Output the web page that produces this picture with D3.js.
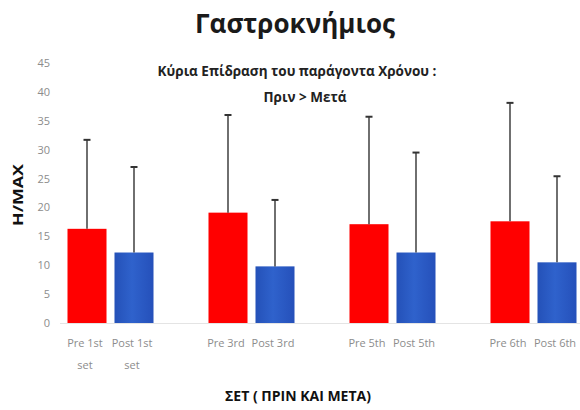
<!DOCTYPE html>
<html>
<head>
<meta charset="utf-8">
<script src="https://cdn.jsdelivr.net/npm/d3@7"></script>
<style>
  html, body { margin: 0; padding: 0; background: #fff; }
  svg { display: block; }
</style>
</head>
<body>
<svg id="chart" width="580" height="410"></svg>
<script>
// Sets, with blank spacer slots between the pre/post pairs
const categories = ["Pre 1st set", "Post 1st set", "",
                    "Pre 3rd", "Post 3rd", "",
                    "Pre 5th", "Post 5th", "",
                    "Pre 6th", "Post 6th"];
const phases = ["pre", "post", null, "pre", "post", null, "pre", "post", null, "pre", "post"];
const means = [16.3, 12.2, null, 19.1, 9.8, null, 17.1, 12.2, null, 17.6, 10.5];
const errorTops = [31.7, 27.0, null, 36.0, 21.3, null, 35.7, 29.5, null, 38.1, 25.4];
const yTicks = [0, 5, 10, 15, 20, 25, 30, 35, 40, 45];

const svg = d3.select("#chart");
const narrow = "'Liberation Sans Narrow', 'Open Sans', sans-serif";

const x = d3.scaleBand()
  .domain(categories.map((c, i) => i))
  .range([63.5, 580.5])
  .paddingInner(0.17)
  .paddingOuter(0.085);

const y = d3.scaleLinear().domain([0, 45]).range([323, 63]);

// bar fills
const defs = svg.append("defs");
const blue = defs.append("linearGradient").attr("id", "blueFill")
  .attr("x1", 0).attr("x2", 1).attr("y1", 0).attr("y2", 0);
blue.append("stop").attr("offset", "0%").attr("stop-color", "#2451b8");
blue.append("stop").attr("offset", "45%").attr("stop-color", "#2f62cc");
blue.append("stop").attr("offset", "100%").attr("stop-color", "#2550ba");

// title
svg.append("text")
  .attr("x", 295).attr("y", 33)
  .attr("text-anchor", "middle")
  .attr("font-family", "'Open Sans', sans-serif")
  .attr("font-weight", "bold")
  .attr("font-size", 26)
  .attr("fill", "#1a1a1a")
  .text("Γαστροκνήμιος");

// subtitle
const sub = svg.append("text")
  .attr("text-anchor", "middle")
  .attr("font-family", narrow)
  .attr("font-weight", "bold")
  .attr("font-size", 13.5)
  .attr("fill", "#222");
sub.append("tspan").attr("x", 297).attr("y", 76).text("Κύρια Επίδραση του παράγοντα Χρόνου :");
sub.append("tspan").attr("x", 305).attr("y", 102).text("Πριν > Μετά");

// baseline
svg.append("line")
  .attr("x1", 60).attr("x2", 580)
  .attr("y1", y(0) + 0.5).attr("y2", y(0) + 0.5)
  .attr("stroke", "#e4e4e4").attr("stroke-width", 1);

// y axis ticks (labels only)
const yAxis = d3.axisLeft(y).tickValues(yTicks).tickSize(0).tickPadding(0);
const gy = svg.append("g").attr("transform", "translate(50,0)").call(yAxis);
gy.select(".domain").remove();
gy.selectAll("text")
  .attr("font-family", narrow)
  .attr("font-size", 11)
  .attr("fill", "#8c8c8c");

// y axis title
svg.append("text")
  .attr("transform", "translate(23,195) rotate(-90)")
  .attr("text-anchor", "middle")
  .attr("font-family", "'Open Sans', sans-serif")
  .attr("font-weight", "bold")
  .attr("font-size", 15)
  .attr("textLength", 62)
  .attr("lengthAdjust", "spacingAndGlyphs")
  .attr("fill", "#111")
  .text("H/MAX");

const idx = categories.map((c, i) => i).filter(i => means[i] != null);

// bars
svg.append("g").selectAll("rect")
  .data(idx)
  .join("rect")
  .attr("x", i => x(i))
  .attr("width", x.bandwidth())
  .attr("y", i => y(means[i]))
  .attr("height", i => y(0) - y(means[i]))
  .attr("fill", i => phases[i] === "pre" ? "#ff0000" : "url(#blueFill)");

// error bars (upper only)
const eb = svg.append("g").attr("stroke", "#333").attr("stroke-width", 1.4);
eb.selectAll("line.v")
  .data(idx)
  .join("line")
  .attr("class", "v")
  .attr("x1", i => x(i) + x.bandwidth() / 2)
  .attr("x2", i => x(i) + x.bandwidth() / 2)
  .attr("y1", i => y(means[i]))
  .attr("y2", i => y(errorTops[i]));
eb.selectAll("line.cap")
  .data(idx)
  .join("line")
  .attr("class", "cap")
  .attr("x1", i => x(i) + x.bandwidth() / 2 - 3.5)
  .attr("x2", i => x(i) + x.bandwidth() / 2 + 3.5)
  .attr("y1", i => y(errorTops[i]))
  .attr("y2", i => y(errorTops[i]))
  .attr("stroke-width", 2);

// category labels
const xl = svg.append("g")
  .attr("font-family", narrow)
  .attr("font-size", 11)
  .attr("fill", "#8c8c8c")
  .attr("text-anchor", "middle");
idx.forEach(i => {
  const label = categories[i];
  const cx = x(i) + x.bandwidth() / 2 - 2;
  const m = label.match(/^(.*) (set)$/);
  const t = xl.append("text");
  if (m) {
    t.append("tspan").attr("x", cx).attr("y", 347).text(m[1]);
    t.append("tspan").attr("x", cx).attr("y", 369).text(m[2]);
  } else {
    t.attr("x", cx).attr("y", 347).text(label);
  }
});

// x axis title
svg.append("text")
  .attr("x", 298).attr("y", 401)
  .attr("text-anchor", "middle")
  .attr("font-family", narrow)
  .attr("font-weight", "bold")
  .attr("font-size", 14)
  .attr("fill", "#111")
  .text("ΣΕΤ ( ΠΡΙΝ ΚΑΙ ΜΕΤΑ)");
</script>
</body>
</html>
